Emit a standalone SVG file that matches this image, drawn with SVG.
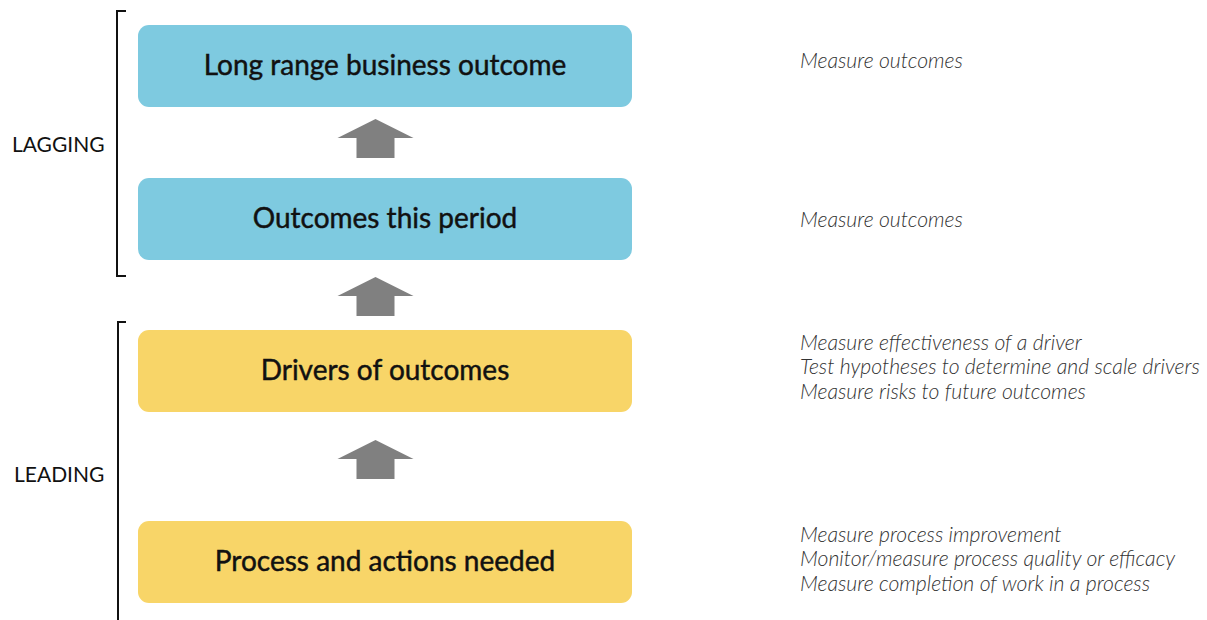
<svg xmlns="http://www.w3.org/2000/svg" width="1207" height="620" viewBox="0 0 1207 620">
  <style>
    .box-blue { fill: #7ecae0; }
    .box-yellow { fill: #f8d568; }
    .box-label { font-family: Lato, "Open Sans", sans-serif; font-size: 28px; fill: #111; stroke: #111; stroke-width: 0.45px; text-anchor: middle; }
    .side { font-family: Lato, "Open Sans", sans-serif; font-size: 21px; fill: #111; }
    .note { font-family: Lato, "Open Sans", sans-serif; font-size: 21.2px; font-style: italic; font-weight: 300; fill: #333; }
    .bracket { fill: none; stroke: #111; stroke-width: 2; }
    .arrow { fill: #808080; }
  </style>
  <defs>
    <!-- block arrow pointing up, origin at tip -->
    <polygon id="up-arrow" points="0,0 38,19 19,19 19,39 -19,39 -19,19 -38,19"/>
  </defs>

  <rect width="1207" height="620" fill="#ffffff"/>

  <!-- group brackets -->
  <g id="lagging">
    <path class="bracket" d="M126,11 H117 V276 H126"/>
    <text class="side" x="12" y="152">LAGGING</text>
  </g>
  <g id="leading">
    <path class="bracket" d="M126,322 H118 V622"/>
    <text class="side" x="14" y="482">LEADING</text>
  </g>

  <!-- nodes -->
  <g id="long-range">
    <rect class="box-blue" x="138" y="25" width="494" height="82" rx="11"/>
    <text class="box-label" x="385" y="75">Long range business outcome</text>
  </g>
  <g id="this-period">
    <rect class="box-blue" x="138" y="178" width="494" height="82" rx="11"/>
    <text class="box-label" x="385" y="228">Outcomes this period</text>
  </g>
  <g id="drivers">
    <rect class="box-yellow" x="138" y="330" width="494" height="82" rx="11"/>
    <text class="box-label" x="385" y="380">Drivers of outcomes</text>
  </g>
  <g id="process">
    <rect class="box-yellow" x="138" y="521" width="494" height="82" rx="11"/>
    <text class="box-label" x="385" y="571">Process and actions needed</text>
  </g>

  <!-- connectors -->
  <g id="connectors" class="arrow">
    <use href="#up-arrow" x="375.5" y="119"/>
    <use href="#up-arrow" x="375.5" y="277"/>
    <use href="#up-arrow" x="375.5" y="440"/>
  </g>

  <!-- measurement notes -->
  <g id="notes">
    <text class="note" x="800" y="68">Measure outcomes</text>
    <text class="note" x="800" y="227">Measure outcomes</text>
    <text class="note" x="800" y="350">Measure effectiveness of a driver</text>
    <text class="note" x="800" y="374">Test hypotheses to determine and scale drivers</text>
    <text class="note" x="800" y="399">Measure risks to future outcomes</text>
    <text class="note" x="800" y="542">Measure process improvement</text>
    <text class="note" x="800" y="566">Monitor/measure process quality or efficacy</text>
    <text class="note" x="800" y="591">Measure completion of work in a process</text>
  </g>
</svg>
